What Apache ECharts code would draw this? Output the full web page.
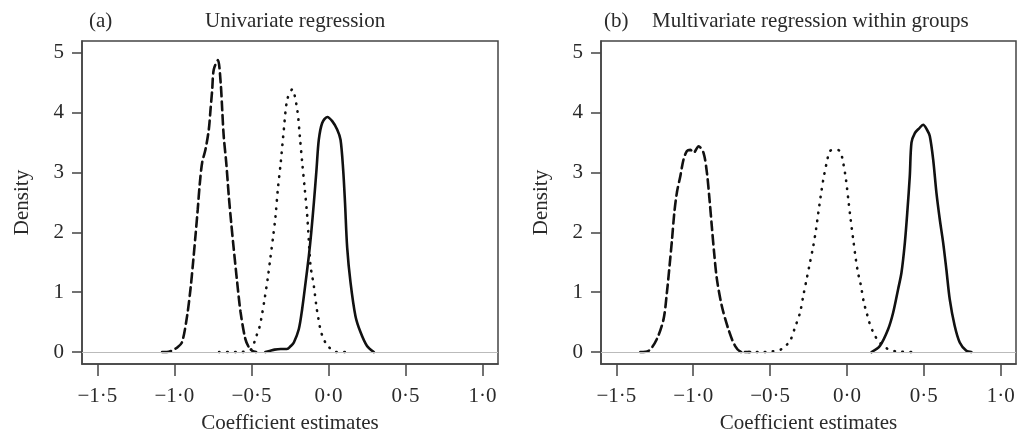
<!DOCTYPE html>
<html>
<head>
<meta charset="utf-8">
<script src="https://cdn.jsdelivr.net/npm/echarts@6/dist/echarts.min.js"></script>
<style>
  html, body { margin: 0; padding: 0; background: #fff; }
  #chart { width: 1021px; height: 443px; }
</style>
</head>
<body>
<div id="chart"></div>
<script>
// Panel (a): univariate regression
const aDashedX = [-1.08, -1.05, -1.02, -0.98, -0.95, -0.918, -0.896, -0.879, -0.864, -0.849, -0.835, -0.82, -0.799, -0.777, -0.766, -0.755, -0.745, -0.718, -0.70, -0.69, -0.68, -0.664, -0.647, -0.632, -0.615, -0.593, -0.571, -0.54, -0.515, -0.495, -0.47];
const aDashedY = [0, 0, 0.02, 0.08, 0.17, 0.6, 1.05, 1.5, 1.93, 2.38, 2.83, 3.17, 3.38, 3.72, 4.05, 4.38, 4.72, 4.88, 4.5, 4.05, 3.6, 3.17, 2.6, 2.17, 1.72, 1.17, 0.67, 0.22, 0.07, 0.02, 0];

const aDottedX = [-0.71, -0.64, -0.57, -0.50, -0.474, -0.452, -0.437, -0.414, -0.394, -0.377, -0.36, -0.344, -0.329, -0.31, -0.29, -0.268, -0.236, -0.203, -0.186, -0.171, -0.154, -0.138, -0.117, -0.106, -0.095, -0.078, -0.067, -0.056, -0.037, -0.004, 0.052, 0.12];
const aDottedY = [0, 0, 0, 0.05, 0.23, 0.38, 0.55, 0.9, 1.24, 1.58, 1.92, 2.27, 2.72, 3.17, 3.72, 4.22, 4.39, 4.05, 3.6, 3.17, 2.72, 2.27, 1.44, 1.27, 1.1, 0.75, 0.58, 0.42, 0.25, 0.1, 0, 0];

const aSolidX = [-0.41, -0.377, -0.35, -0.31, -0.27, -0.245, -0.225, -0.193, -0.171, -0.149, -0.128, -0.112, -0.095, -0.078, -0.063, -0.041, -0.008, 0.024, 0.056, 0.078, 0.095, 0.107, 0.121, 0.143, 0.175, 0.208, 0.25, 0.294];
const aSolidY = [0, 0.02, 0.04, 0.05, 0.05, 0.1, 0.16, 0.38, 0.72, 1.16, 1.6, 2.0, 2.5, 3.05, 3.55, 3.83, 3.93, 3.86, 3.72, 3.55, 3.05, 2.5, 1.75, 1.16, 0.6, 0.33, 0.1, 0];

// Panel (b): multivariate regression within groups
const bDashedX = [-1.344, -1.29, -1.236, -1.193, -1.171, -1.154, -1.138, -1.123, -1.106, -1.084, -1.063, -1.041, -1.019, -0.998, -0.965, -0.933, -0.911, -0.894, -0.879, -0.864, -0.846, -0.814, -0.771, -0.727, -0.684, -0.63];
const bDashedY = [0, 0.02, 0.22, 0.55, 1.0, 1.44, 1.88, 2.33, 2.67, 2.94, 3.22, 3.36, 3.38, 3.33, 3.44, 3.33, 3.0, 2.55, 2.1, 1.66, 1.22, 0.77, 0.38, 0.1, 0, 0];

const bDottedX = [-0.69, -0.64, -0.55, -0.49, -0.424, -0.37, -0.338, -0.305, -0.284, -0.262, -0.24, -0.219, -0.201, -0.186, -0.171, -0.154, -0.132, -0.11, -0.078, -0.045, -0.024, -0.006, 0.009, 0.024, 0.041, 0.058, 0.074, 0.084, 0.095, 0.11, 0.128, 0.145, 0.171, 0.203, 0.253, 0.32, 0.45];
const bDottedY = [0, 0, 0, 0.01, 0.05, 0.19, 0.41, 0.66, 0.94, 1.22, 1.5, 1.77, 2.05, 2.33, 2.6, 2.88, 3.16, 3.36, 3.38, 3.36, 3.16, 2.88, 2.55, 2.22, 1.88, 1.55, 1.3, 1.2, 1.05, 0.83, 0.66, 0.5, 0.33, 0.19, 0.07, 0.01, 0];

const bSolidX = [0.16, 0.214, 0.268, 0.301, 0.333, 0.355, 0.377, 0.394, 0.409, 0.42, 0.442, 0.47, 0.496, 0.52, 0.539, 0.561, 0.582, 0.604, 0.626, 0.647, 0.669, 0.701, 0.734, 0.777, 0.81];
const bSolidY = [0, 0.1, 0.38, 0.66, 1.05, 1.33, 1.83, 2.38, 2.94, 3.5, 3.66, 3.74, 3.8, 3.72, 3.61, 3.22, 2.67, 2.22, 1.83, 1.38, 0.88, 0.44, 0.16, 0.02, 0];

const xTicks = [-1.5, -1.0, -0.5, 0.0, 0.5, 1.0];
const yTicks = [0, 1, 2, 3, 4, 5];
const panelTitles = ['Univariate regression', 'Multivariate regression within groups'];
const panelTags = ['(a)', '(b)'];

const FONT = 'Liberation Serif, DejaVu Serif, serif';
const chart = echarts.init(document.getElementById('chart'));

function fmtX(v) {
  const s = Math.abs(v).toFixed(1).replace('.', '\u00b7');
  return (v < 0 ? '\u2212' : '') + s;
}

function zip(xs, ys) {
  return xs.map((x, i) => [x, ys[i]]);
}

const edge = { show: true, onZero: false, lineStyle: { color: '#444', width: 1.5 } };

function makeXAxis(idx) {
  return {
    type: 'value', gridIndex: idx, min: -1.6, max: 1.1,
    axisLine: edge,
    splitLine: { show: false },
    axisTick: { show: true, inside: false, length: 12, customValues: xTicks, lineStyle: { color: '#444', width: 1.5 } },
    axisLabel: { customValues: xTicks, formatter: fmtX, margin: 22, color: '#2a2a2a', fontFamily: FONT, fontSize: 21 },
    name: 'Coefficient estimates', nameLocation: 'middle', nameGap: 49,
    nameTextStyle: { color: '#2a2a2a', fontFamily: FONT, fontSize: 21 }
  };
}

function makeYAxis(idx) {
  return {
    type: 'value', gridIndex: idx, min: -0.2, max: 5.2,
    axisLine: edge,
    splitLine: { show: false },
    axisTick: { show: true, inside: false, length: 10, customValues: yTicks, lineStyle: { color: '#444', width: 1.5 } },
    axisLabel: { customValues: yTicks, margin: 18, color: '#2a2a2a', fontFamily: FONT, fontSize: 21 },
    name: 'Density', nameLocation: 'middle', nameGap: 49,
    nameTextStyle: { color: '#2a2a2a', fontFamily: FONT, fontSize: 21 }
  };
}

function lineSeries(idx, xs, ys, kind) {
  const style = { color: '#111', width: 2.6, cap: 'round' };
  if (kind === 'dashed') style.type = [9, 5];
  if (kind === 'dotted') style.type = [0.5, 7.5];
  return {
    type: 'line', xAxisIndex: idx, yAxisIndex: idx,
    data: zip(xs, ys), showSymbol: false, smooth: 0.3,
    lineStyle: style, z: 3
  };
}

function zeroLine(idx) {
  return {
    type: 'line', xAxisIndex: idx, yAxisIndex: idx, data: [], z: 1,
    markLine: {
      silent: true, symbol: 'none', label: { show: false },
      lineStyle: { color: '#bbb', width: 1, type: 'solid' },
      data: [{ yAxis: 0 }]
    }
  };
}

const grids = [
  { left: 82, top: 41, width: 416, height: 323 },
  { left: 601, top: 41, width: 415, height: 323 }
];

const titleStyle = { fontFamily: FONT, fontSize: 21, fontWeight: 'normal', color: '#2a2a2a' };

const option = {
  animation: false,
  backgroundColor: '#fff',
  title: [
    { text: panelTags[0], left: 84, top: 6, textStyle: titleStyle },
    { text: panelTitles[0], left: 200, top: 6, textStyle: titleStyle },
    { text: panelTags[1], left: 599, top: 6, textStyle: titleStyle },
    { text: panelTitles[1], left: 647, top: 6, textStyle: titleStyle }
  ],
  grid: grids.map(g => Object.assign({ show: true, borderColor: '#444', borderWidth: 1.5, backgroundColor: 'transparent' }, g)),
  xAxis: [makeXAxis(0), makeXAxis(1)],
  yAxis: [makeYAxis(0), makeYAxis(1)],
  series: [
    zeroLine(0),
    lineSeries(0, aDashedX, aDashedY, 'dashed'),
    lineSeries(0, aDottedX, aDottedY, 'dotted'),
    lineSeries(0, aSolidX, aSolidY, 'solid'),
    zeroLine(1),
    lineSeries(1, bDashedX, bDashedY, 'dashed'),
    lineSeries(1, bDottedX, bDottedY, 'dotted'),
    lineSeries(1, bSolidX, bSolidY, 'solid')
  ]
};

chart.setOption(option);
</script>
</body>
</html>
